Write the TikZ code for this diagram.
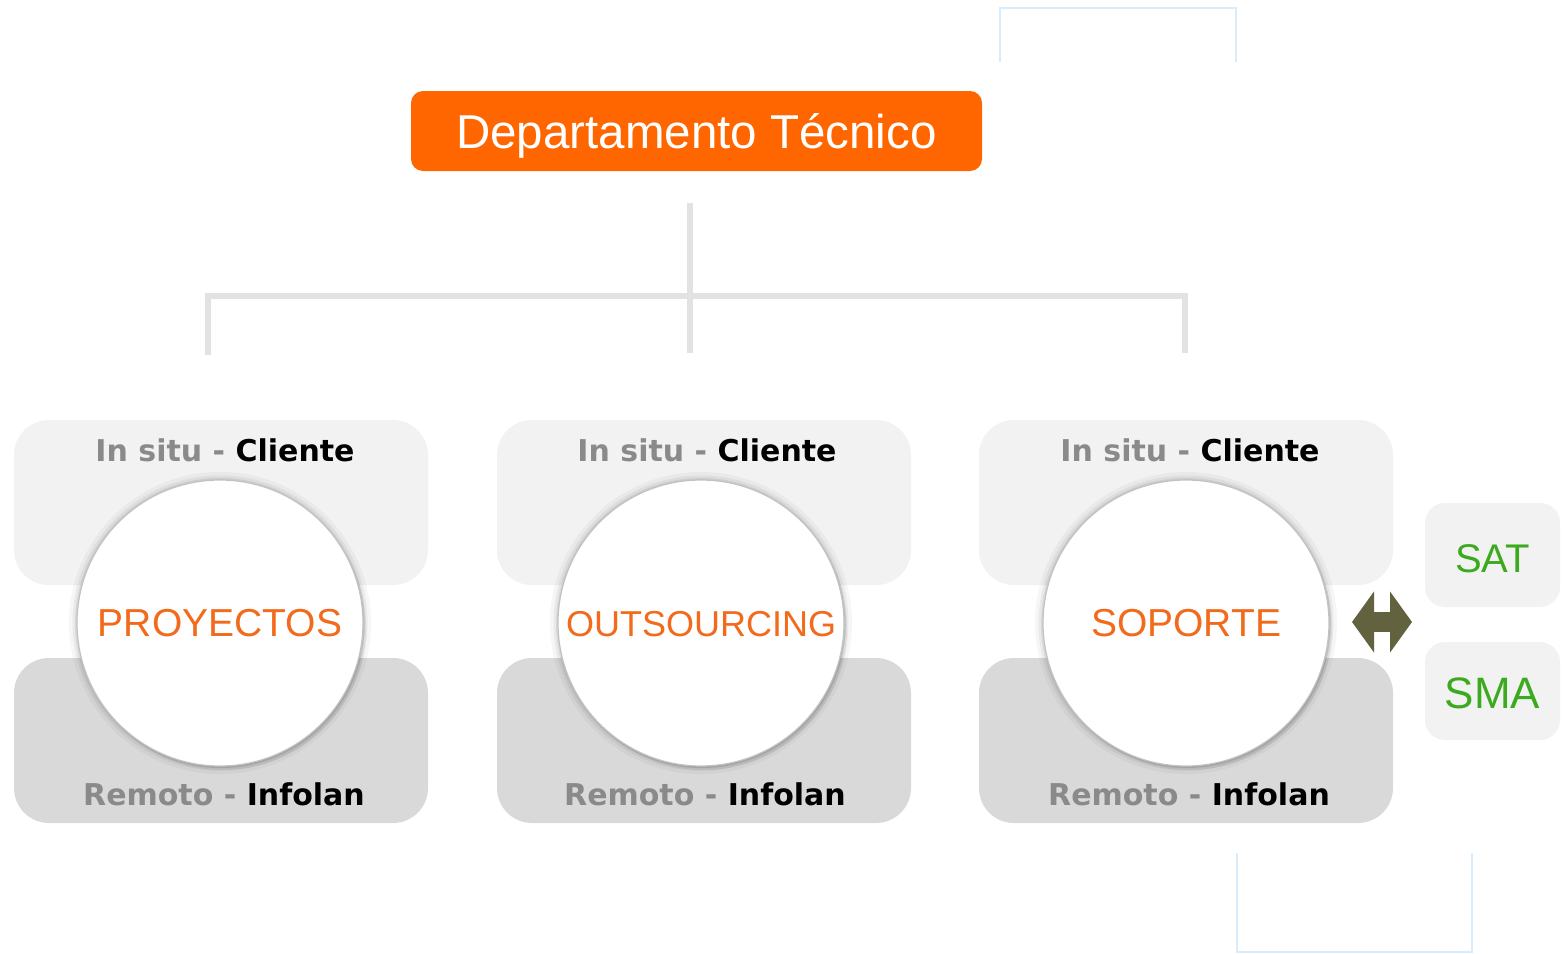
\documentclass[tikz,border=0pt]{standalone}
\usepackage{fontspec}
\setmainfont{Liberation Sans}
\newfontfamily\modefont{DejaVu Sans}
\usepackage{tikz}
\usetikzlibrary{positioning, arrows.meta, calc}
\usepackage{xcolor}

\definecolor{deporange}{HTML}{FF6600}
\definecolor{areaorange}{HTML}{F26A1B}
\definecolor{servgreen}{HTML}{3CAA1E}
\definecolor{topgray}{HTML}{F2F2F2}
\definecolor{botgray}{HTML}{D9D9D9}
\definecolor{treegray}{HTML}{E2E2E2}
\definecolor{frameblue}{HTML}{D8ECFC}
\definecolor{swapolive}{HTML}{62623F}
\definecolor{situgray}{HTML}{8A8A8A}

\newcommand{\situtext}{{\color{situgray}In situ -} Cliente}
\newcommand{\remtext}{{\color{situgray}Remoto -} Infolan}

\tikzset{
    deptbox/.style={fill=deporange, rounded corners=12pt, minimum width=571pt, minimum height=80pt,
        text=white, text height=34pt, text depth=0pt, font=\fontsize{47.5}{47.5}\selectfont},
    upperbox/.style={fill=topgray, rounded corners=35pt, minimum width=414pt, minimum height=165pt, inner sep=0pt},
    lowerbox/.style={fill=botgray, rounded corners=35pt, minimum width=414pt, minimum height=165pt, inner sep=0pt},
    area/.style={circle, fill=white, draw=black!24, line width=1.2pt, minimum size=286pt, inner sep=0pt,
        text=areaorange, text height=26pt, text depth=0pt, font=\fontsize{39}{39}\selectfont,
        preaction={fill=black, opacity=0.06, transform canvas={shift={(3pt,-4pt)}}},
        preaction={fill=black, opacity=0.05, transform canvas={shift={(1.5pt,-2pt)}}},
        preaction={draw=black, opacity=0.035, line width=16pt},
        preaction={draw=black, opacity=0.05, line width=9pt},
        preaction={draw=black, opacity=0.07, line width=4pt}},
    modelabel/.style={anchor=base, font=\modefont\bfseries\fontsize{30}{30}\selectfont},
    servbox/.style={fill=topgray, rounded corners=20pt, minimum width=135pt, minimum height=100pt,
        text=servgreen, text height=35pt, text depth=0pt},
    tree/.style={draw=treegray, line width=5.5pt},
    frame/.style={draw=frameblue, line width=2pt},
    swap/.style={draw=swapolive, line width=20pt,
        {Triangle[length=22pt, width=60pt]}-{Triangle[length=22pt, width=60pt]}}
}

\begin{document}
\begin{tikzpicture}[x=1pt, y=-1pt]
        \useasboundingbox[fill=white] (0,0) rectangle (1565,953);

        %coordinates
        \coordinate (stem)  at (690,203);
        \coordinate (hub)   at (690,296);
        \coordinate (drop1) at (208,355);
        \coordinate (drop2) at (690,353);
        \coordinate (drop3) at (1185,353);

        \coordinate (swapL) at (1352,622);
        \coordinate (swapR) at (1412,622);

        %frames
        \draw[frame] (1000,62) |- (1236,8) -- (1236,62);
        \draw[frame] (1237,853) |- (1472,952) -- (1472,853);

        %nodes
        \node[deptbox] (dept) at (696.5,131) {Departamento Técnico};

        \node[upperbox] (situ1) at (221,502.5) {};
        \node[lowerbox] (rem1)  at (221,740.5) {};
        \node[upperbox] (situ2) at (704,502.5) {};
        \node[lowerbox] (rem2)  at (704,740.5) {};
        \node[upperbox] (situ3) at (1186,502.5) {};
        \node[lowerbox] (rem3)  at (1186,740.5) {};

        \node[modelabel] (situt1) at (225,461) {\situtext};
        \node[modelabel] (remt1)  at (224,805) {\remtext};
        \node[modelabel] (situt2) at (707,461) {\situtext};
        \node[modelabel] (remt2)  at (705,805) {\remtext};
        \node[modelabel] (situt3) at (1190,461) {\situtext};
        \node[modelabel] (remt3)  at (1189,805) {\remtext};

        \node[area] (proy) at (220,623) {PROYECTOS};
        \node[area, font=\fontsize{36}{36}\selectfont] (outs) at (701,623) {OUTSOURCING};
        \node[area] (sop)  at (1186,623) {SOPORTE};

        \node[servbox, minimum height=104pt, font=\fontsize{40}{40}\selectfont] (sat) at (1492.5,555) {SAT};
        \node[servbox, minimum height=98pt, font=\fontsize{44}{44}\selectfont] (sma) at (1492.5,691) {SMA};

        %edges
        \draw[tree] (stem) -- (drop2);
        \draw[tree] (drop1) |- (hub) -| (drop3);

        \draw[swap] (swapL) -- (swapR);
    \end{tikzpicture}
\end{document}
